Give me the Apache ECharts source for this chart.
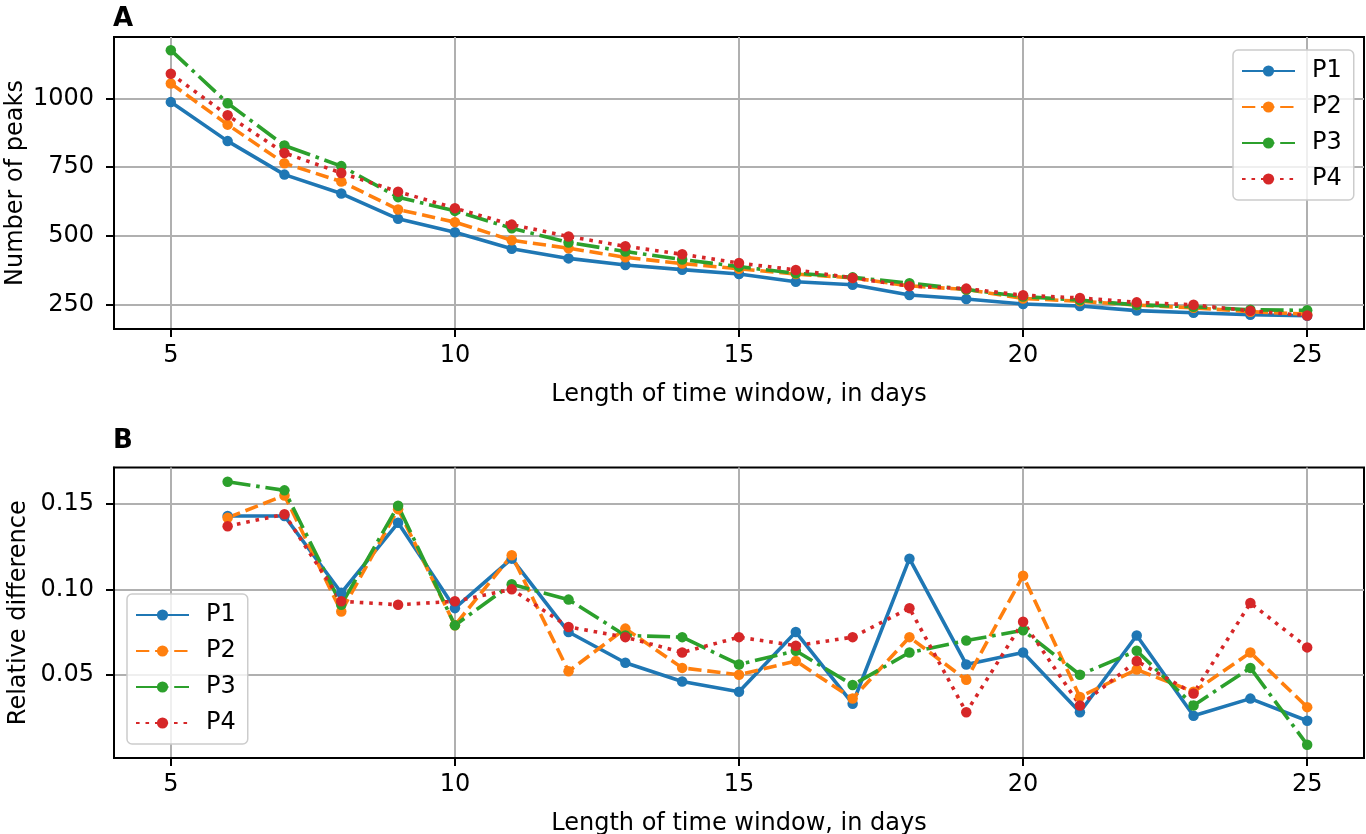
<!DOCTYPE html>
<html>
<head>
<meta charset="utf-8">
<script src="https://cdn.jsdelivr.net/npm/echarts@6/dist/echarts.min.js"></script>
<style>
html,body{margin:0;padding:0;background:#fff;}
#c{width:1366px;height:834px;}
</style>
</head>
<body>
<div id="c"></div>
<script>
// ---- data ----
const daysTop = [5,6,7,8,9,10,11,12,13,14,15,16,17,18,19,20,21,22,23,24,25];
const peaksP1 = [987,845,723,654,562,513,453,418,394,377,361,333,322,285,270,252,245,228,220,213,209];
const peaksP2 = [1055,905,764,698,596,550,484,455,422,399,380,361,347,318,305,272,262,248,238,224,215];
const peaksP3 = [1176,983,829,754,641,591,528,476,443,414,388,364,349,328,305,279,266,249,242,231,229];
const peaksP4 = [1090,939,802,729,661,601,541,498,462,433,401,376,347,317,308,284,274,258,249,227,210];

const daysBottom = [6,7,8,9,10,11,12,13,14,15,16,17,18,19,20,21,22,23,24,25];
const relP1 = [0.143,0.143,0.098,0.139,0.089,0.118,0.075,0.057,0.046,0.040,0.075,0.033,0.118,0.056,0.063,0.028,0.073,0.026,0.036,0.023];
const relP2 = [0.142,0.155,0.087,0.147,0.079,0.120,0.052,0.077,0.054,0.050,0.058,0.036,0.072,0.047,0.108,0.037,0.053,0.040,0.063,0.031];
const relP3 = [0.163,0.158,0.091,0.149,0.079,0.103,0.094,0.073,0.072,0.056,0.064,0.044,0.063,0.070,0.076,0.050,0.064,0.032,0.054,0.009];
const relP4 = [0.137,0.144,0.093,0.091,0.093,0.100,0.078,0.072,0.063,0.072,0.067,0.072,0.089,0.028,0.081,0.032,0.058,0.039,0.092,0.066];

const seriesNames = ['P1','P2','P3','P4'];
const xTicks = [5,10,15,20,25];
const yTicksTop = [250,500,750,1000];
const yTicksBottom = [0.05,0.10,0.15];

// ---- style ----
const FONT = 'DejaVu Sans';
const colors = ['#1f77b4','#ff7f0e','#2ca02c','#d62728'];
const dashes = ['solid',[13.3,5.8],[23,5.8,3.6,5.8],[3.6,5.9]];

function zip(xs, ys){ return xs.map((x,i)=>[x, ys[i]]); }

function mkSeries(name, idx, xs, ys, axisIdx){
  return {
    name: name, type: 'line', xAxisIndex: axisIdx, yAxisIndex: axisIdx,
    data: zip(xs, ys),
    symbol: 'circle', symbolSize: 10.5, showSymbol: true,
    lineStyle: {color: colors[idx], width: 3.6, type: dashes[idx], cap: 'butt'},
    itemStyle: {color: colors[idx]},
    emphasis: {disabled: true},
    animation: false
  };
}

function xAxisCfg(gi){
  return {
    type: 'value', gridIndex: gi, min: 4, max: 26, splitNumber: 5,
    name: 'Length of time window, in days', nameLocation: 'middle', nameGap: 54,
    nameMoveOverlap: false,
    nameTextStyle: {fontFamily: FONT, fontSize: 24, color: '#000'},
    axisLine: {show: true, onZero: false, lineStyle: {color: '#000', width: 2}},
    axisTick: {show: true, inside: false, length: 8, lineStyle: {color: '#000', width: 2}, customValues: xTicks},
    axisLabel: {show: true, margin: 15, fontFamily: FONT, fontSize: 24, color: '#000', customValues: xTicks},
    splitLine: {show: true, lineStyle: {color: '#b0b0b0', width: 2}}
  };
}

function yAxisCfg(gi, name, gap, min, max, ticks, fmt){
  return {
    type: 'value', gridIndex: gi, min: min, max: max,
    name: name, nameLocation: 'middle', nameGap: gap,
    nameMoveOverlap: false,
    nameTextStyle: {fontFamily: FONT, fontSize: 24, color: '#000'},
    axisLine: {show: true, onZero: false, lineStyle: {color: '#000', width: 2}},
    axisTick: {show: true, inside: false, length: 8, lineStyle: {color: '#000', width: 2}, customValues: ticks},
    axisLabel: {show: true, margin: 20, fontFamily: FONT, fontSize: 24, color: '#000', customValues: ticks, formatter: fmt},
    splitLine: {show: true, lineStyle: {color: '#b0b0b0', width: 2}}
  };
}

function legendCfg(left, top){
  return {
    orient: 'vertical', left: left, top: top,
    data: seriesNames,
    itemWidth: 53, itemHeight: 14, itemGap: 10,
    padding: [8, 12, 8, 8],
    backgroundColor: 'rgba(255,255,255,0.8)',
    borderColor: '#cccccc', borderWidth: 1.5, borderRadius: 5,
    textStyle: {fontFamily: FONT, fontSize: 24, color: '#000', lineHeight: 26, padding: [0,0,0,12]},
    selectedMode: false
  };
}

const chart = echarts.init(document.getElementById('c'), null, {renderer: 'canvas'});
const option = {
  backgroundColor: '#fff',
  animation: false,
  title: [
    {text: 'A', left: 113, top: 6, padding: 0, textStyle: {fontFamily: FONT, fontSize: 26, fontWeight: 'bold', color: '#000'}},
    {text: 'B', left: 113, top: 428, padding: 0, textStyle: {fontFamily: FONT, fontSize: 26, fontWeight: 'bold', color: '#000'}}
  ],
  grid: [
    {left: 114, right: 2, top: 37, height: 292, show: true, borderColor: '#000', borderWidth: 2, backgroundColor: 'transparent', outerBoundsMode: 'none', containLabel: false},
    {left: 114, right: 2, top: 467.5, height: 290.5, show: true, borderColor: '#000', borderWidth: 2, backgroundColor: 'transparent', outerBoundsMode: 'none', containLabel: false}
  ],
  xAxis: [xAxisCfg(0), xAxisCfg(1)],
  yAxis: [
    yAxisCfg(0, 'Number of peaks', 86, 161, 1224, yTicksTop, v => String(Math.round(v))),
    yAxisCfg(1, 'Relative difference', 83, 0.0012, 0.1714, yTicksBottom, v => v.toFixed(2))
  ],
  legend: [legendCfg(1233, 50), legendCfg(127, 594)],
  series: [
    mkSeries('P1',0,daysTop,peaksP1,0),
    mkSeries('P2',1,daysTop,peaksP2,0),
    mkSeries('P3',2,daysTop,peaksP3,0),
    mkSeries('P4',3,daysTop,peaksP4,0),
    mkSeries('P1',0,daysBottom,relP1,1),
    mkSeries('P2',1,daysBottom,relP2,1),
    mkSeries('P3',2,daysBottom,relP3,1),
    mkSeries('P4',3,daysBottom,relP4,1)
  ]
};
chart.setOption(option);
</script>
</body>
</html>
